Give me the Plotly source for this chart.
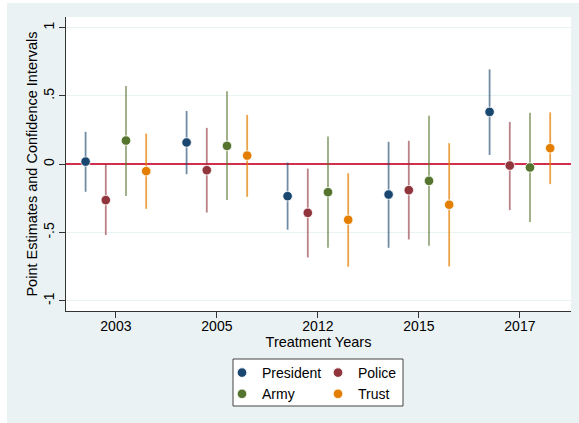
import plotly.graph_objects as go

# ---- data ----
years = ["2003", "2005", "2012", "2015", "2017"]
series_names = ["President", "Police", "Army", "Trust"]

president_est = [0.019, 0.159, -0.234, -0.222, 0.383]
president_lo = [-0.202, -0.073, -0.480, -0.612, 0.068]
president_hi = [0.237, 0.390, 0.012, 0.164, 0.695]

police_est = [-0.263, -0.044, -0.356, -0.190, -0.010]
police_lo = [-0.519, -0.354, -0.683, -0.551, -0.336]
police_hi = [0.003, 0.266, -0.032, 0.171, 0.310]

army_est = [0.173, 0.134, -0.205, -0.122, -0.024]
army_lo = [-0.232, -0.263, -0.612, -0.598, -0.424]
army_hi = [0.573, 0.534, 0.202, 0.354, 0.376]

trust_est = [-0.051, 0.063, -0.407, -0.297, 0.117]
trust_lo = [-0.327, -0.239, -0.751, -0.749, -0.146]
trust_hi = [0.224, 0.361, -0.066, 0.154, 0.380]

y_tickvals = [-1, -0.5, 0, 0.5, 1]
y_ticktext = ["-1", "-.5", "0", ".5", "1"]

# ---- styling ----
colors = ["#1a476f", "#90353b", "#55752f", "#e37e00"]
ci_colors = ["rgba(26,71,111,0.62)", "rgba(144,53,59,0.62)",
             "rgba(85,117,47,0.62)", "rgba(227,126,0,0.72)"]
bg = "#EAF2F3"
FONT = "Liberation Sans, Arial, Helvetica, sans-serif"

W, H = 579, 423
ML, MR, MT, MB = 66, 8, 17, 112
PW, PH = W - ML - MR, H - MT - MB


def px_x(p):
    return (p - ML) / PW


def px_y(p):
    return (H - MB - p) / PH


series = [
    (president_est, president_lo, president_hi),
    (police_est, police_lo, police_hi),
    (army_est, army_lo, army_hi),
    (trust_est, trust_lo, trust_hi),
]
legend_of = ["legend", "legend2", "legend", "legend2"]
group_step = len(series_names) + 1

fig = go.Figure()
for s, (name, (est, lo, hi)) in enumerate(zip(series_names, series)):
    xs = [g * group_step + s for g in range(len(years))]
    fig.add_trace(go.Scatter(
        x=xs, y=est, mode="markers", name=name,
        marker=dict(color=colors[s], size=9.5, line=dict(color="white", width=0.8)),
        error_y=dict(type="data", symmetric=False,
                     array=[h - e for h, e in zip(hi, est)],
                     arrayminus=[e - l for e, l in zip(est, lo)],
                     color=ci_colors[s], thickness=1.8, width=0),
        legend=legend_of[s],
    ))

tickvals_x = [g * group_step + (len(series_names) - 1) / 2 for g in range(len(years))]

fig.update_layout(
    width=W, height=H,
    margin=dict(l=ML, r=MR, t=MT, b=MB, pad=0, autoexpand=False),
    paper_bgcolor=bg, plot_bgcolor="white",
    font=dict(family=FONT, size=14, color="black"),
    showlegend=True,
    xaxis=dict(
        range=[-0.97, 24.03], tickvals=tickvals_x, ticktext=years,
        showgrid=False, zeroline=False, automargin=False,
        showline=True, linecolor="#333333", linewidth=1,
        ticks="outside", ticklen=6, tickcolor="#333333", tickwidth=1,
        tickfont=dict(size=14), ticklabelstandoff=-4,
        title=dict(text="Treatment Years", font=dict(size=14.5), standoff=1),
    ),
    yaxis=dict(
        range=[-1.075, 1.078], tickvals=y_tickvals, ticktext=y_ticktext,
        tickangle=-90, automargin=False, ticklabelstandoff=-1,
        showgrid=True, gridcolor=bg, gridwidth=1.2,
        zeroline=True, zerolinecolor="#d0304c", zerolinewidth=1.5,
        showline=True, linecolor="#333333", linewidth=1,
        ticks="outside", ticklen=6, tickcolor="#333333", tickwidth=1,
        tickfont=dict(size=14),
        title=dict(text="Point Estimates and Confidence Intervals",
                   font=dict(size=14.5), standoff=0),
    ),
    legend=dict(x=px_x(222), xanchor="left", y=px_y(357), yanchor="top",
                bgcolor="rgba(0,0,0,0)", borderwidth=0, font=dict(size=14),
                tracegroupgap=0, itemclick=False, itemdoubleclick=False),
    legend2=dict(x=px_x(318), xanchor="left", y=px_y(357), yanchor="top",
                 bgcolor="rgba(0,0,0,0)", borderwidth=0, font=dict(size=14),
                 tracegroupgap=0, itemclick=False, itemdoubleclick=False),
    shapes=[
        # white margin strips outside the graph region
        dict(type="rect", xref="paper", yref="paper", layer="below",
             x0=px_x(0), x1=px_x(7), y0=px_y(H), y1=px_y(0),
             fillcolor="white", line=dict(width=0)),
        dict(type="rect", xref="paper", yref="paper", layer="below",
             x0=px_x(0), x1=px_x(W), y0=px_y(3), y1=px_y(0),
             fillcolor="white", line=dict(width=0)),
        # legend frame
        dict(type="rect", xref="paper", yref="paper", layer="below",
             x0=px_x(233), x1=px_x(403), y0=px_y(406), y1=px_y(359),
             fillcolor="white", line=dict(color="#444444", width=1)),
    ],
)

fig.write_html(
    "out.html",
    config={"displayModeBar": False},
    post_script="document.body.style.margin='0';document.body.style.overflow='hidden';",
)
